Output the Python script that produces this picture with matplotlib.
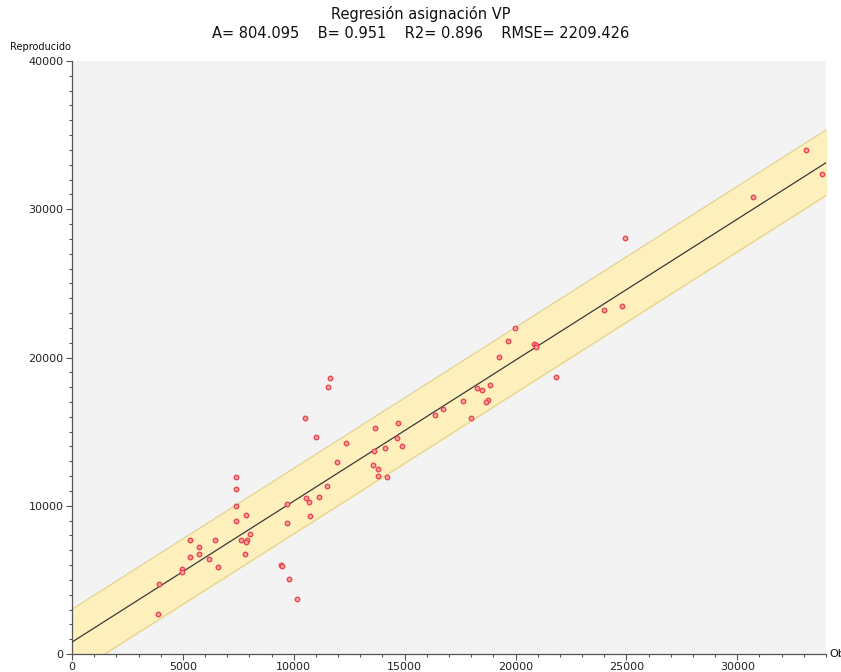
import matplotlib
matplotlib.use('Agg')
import matplotlib.pyplot as plt
import numpy as np
from matplotlib.ticker import MultipleLocator

# Regression parameters shown in the title
A = 804.095
B = 0.951
R2 = 0.896
RMSE = 2209.426

observado = [3900, 3920, 4950, 4950, 5340, 5340, 5730, 5730, 6160, 6430,
             6580, 7380, 7380, 7380, 7380, 7850, 7620, 7890, 7850, 8040,
             7800, 9420, 9450, 9770, 10160, 9690, 9690, 10550, 10700, 11150,
             10730, 11500, 11960, 11620, 11540, 10510, 10990, 12370, 13660, 14690,
             14640, 14880, 14100, 13620, 13590, 13780, 13780, 14200, 16370, 16710,
             19990, 19670, 20820, 20940, 20940, 19240, 21840, 18850, 18260, 18500,
             18770, 18650, 17630, 17980, 24940, 24000, 24820, 30710, 33080, 33820]
reproducido = [2700, 4740, 5750, 5510, 7690, 6520, 7220, 6750, 6390, 7690,
               5870, 11920, 11150, 9980, 8990, 9400, 7690, 7690, 7530, 8090,
               6750, 6000, 5940, 5040, 3690, 10100, 8860, 10500, 10270, 10570,
               9330, 11330, 12970, 18640, 18030, 15920, 14620, 14210, 15220, 15580,
               14570, 14030, 13920, 13690, 12750, 12460, 12030, 11920, 16140, 16550,
               21990, 21130, 20890, 20820, 20690, 20030, 18680, 18140, 17960, 17810,
               17150, 16980, 17050, 15920, 28080, 23200, 23450, 30850, 33970, 32400]

x_max = 34000
y_max = 40000

plt.rcParams['font.family'] = ['DejaVu Sans']

fig = plt.figure(figsize=(8.41, 6.72), dpi=100)
ax = fig.add_axes([72 / 841, 18 / 672, 754 / 841, 593 / 672])
ax.set_facecolor('#f3f3f3')

# Regression line with +/- RMSE band
xs = np.array([0, x_max])
ys = A + B * xs
ax.fill_between(xs, ys - RMSE, ys + RMSE, color='#fdf0bd', zorder=1)
ax.plot(xs, ys + RMSE, color='#e2d398', lw=0.9, zorder=2)
ax.plot(xs, ys - RMSE, color='#e2d398', lw=0.9, zorder=2)
ax.plot(xs, ys, color='#3a3a3a', lw=0.9, zorder=3)

# Points
ax.plot(observado, reproducido, 'o', ms=3.3, mfc='#f5a0a0', mec='#e8434a',
        mew=0.9, zorder=4, linestyle='none')

ax.set_xlim(0, x_max)
ax.set_ylim(0, y_max)

ax.xaxis.set_major_locator(MultipleLocator(5000))
ax.xaxis.set_minor_locator(MultipleLocator(1000))
ax.yaxis.set_major_locator(MultipleLocator(10000))
ax.yaxis.set_minor_locator(MultipleLocator(1000))

for s in ['top', 'right']:
    ax.spines[s].set_visible(False)
for s in ['left', 'bottom']:
    ax.spines[s].set_color('#555555')
    ax.spines[s].set_linewidth(0.9)

ax.tick_params(which='major', length=4, width=0.8, color='#555555',
               labelsize=8, labelcolor='#222222', pad=2)
ax.tick_params(which='minor', length=2, width=0.8, color='#555555')

# Titles and axis names
fig.text(0.5, 1 - 14 / 672, 'Regresión asignación VP', ha='center', va='center',
         fontsize=10.5, color='#111111')
fig.text(0.5, 1 - 33 / 672,
         'A= %.3f    B= %.3f    R2= %.3f    RMSE= %.3f' % (A, B, R2, RMSE),
         ha='center', va='center', fontsize=10.5, color='#111111')
fig.text(10 / 841, 1 - 47 / 672, 'Reproducido', ha='left', va='center',
         fontsize=7, color='#111111')
fig.text(829 / 841, 18 / 672, 'Observado', ha='left', va='center',
         fontsize=8, color='#111111')

fig.savefig('out.png', dpi=100)
